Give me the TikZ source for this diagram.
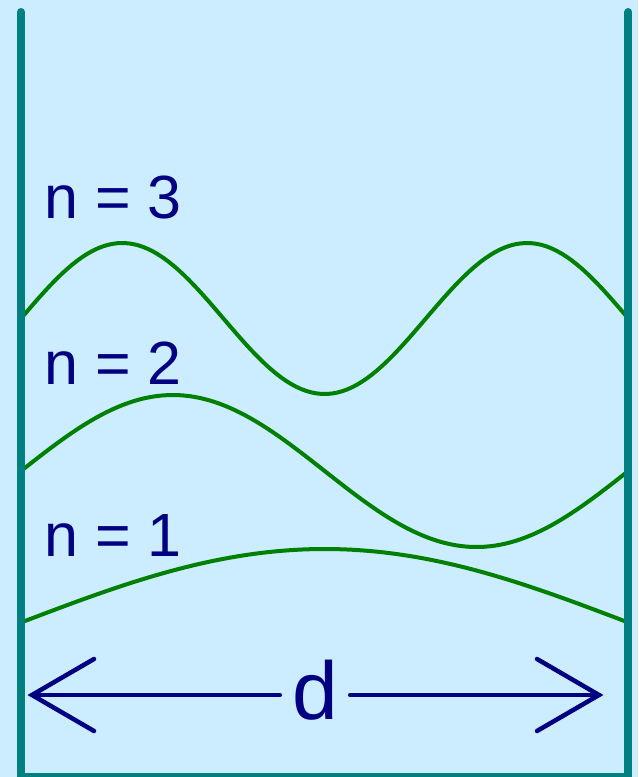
\documentclass[tikz,border=0pt]{standalone}
\usepackage{fontspec}
\setmainfont{Liberation Sans}
\definecolor{bg}{RGB}{204,236,255}
\definecolor{wallc}{RGB}{0,128,128}
\definecolor{wavec}{RGB}{0,128,0}
\definecolor{inkc}{RGB}{0,0,128}
\begin{document}
\begin{tikzpicture}[x=1pt,y=-1pt,
  wall/.style={draw=wallc,line width=8pt,line cap=round,line join=miter},
  wave/.style={draw=wavec,line width=4pt},
  nlabel/.style={text=inkc,font=\fontsize{61}{70}\selectfont,anchor=base west,inner sep=0pt},
  dim/.style={draw=inkc,line width=4.5pt,line cap=round,line join=miter}]
\fill[bg] (0,0) rectangle (638,777);
\useasboundingbox (0,0) rectangle (638,777);
% standing waves
\draw[wave] plot[domain=0:1,samples=120] ({21+607.3*\x},{318.5-75.5*sin(540*\x)});
\draw[wave] plot[domain=0:1,samples=120] ({21+607.3*\x},{471-76*sin(360*\x)});
\draw[wave] plot[domain=0:1,samples=120] ({21+607.3*\x},{622.5-73.5*sin(180*\x)});
% walls
\draw[wall] (21,12) -- (21,776.5) -- (628.3,776.5) -- (628.3,12);
% labels
\node[nlabel] (n3) at (44,218) {n = 3};
\node[nlabel] (n2) at (44,384) {n = 2};
\node[nlabel] (n1) at (44,556) {n = 1};
% dimension arrow
\coordinate (tipL) at (32,695);
\coordinate (tipR) at (599,695);
\node[text=inkc,font=\fontsize{82}{90}\selectfont,anchor=base,inner sep=0pt,minimum width=70pt] (d) at (315,719) {d};
\draw[dim] (tipL) -- (tipL -| d.west);
\draw[dim] (tipR) -- (tipR -| d.east);
\draw[dim] ([shift={(62,-36)}]tipL) -- (tipL) -- ([shift={(62,36)}]tipL);
\draw[dim] ([shift={(-62,-36)}]tipR) -- (tipR) -- ([shift={(-62,36)}]tipR);
\end{tikzpicture}
\end{document}
